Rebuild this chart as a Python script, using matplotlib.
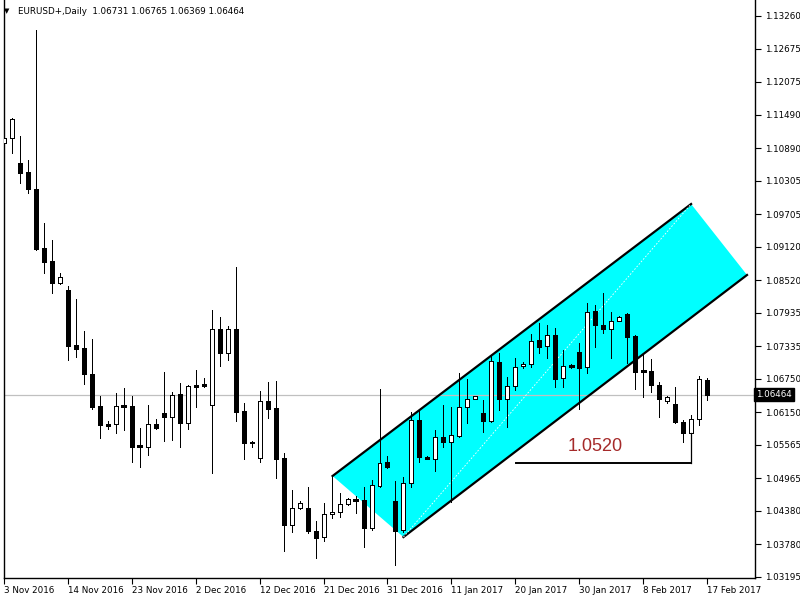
import matplotlib
matplotlib.use('Agg')
import matplotlib.pyplot as plt
import matplotlib.transforms as mtransforms
from matplotlib.patches import Polygon

# daily EURUSD+ bars, 3 Nov 2016 .. 17 Feb 2017
opens = [1.10981, 1.11070, 1.10622, 1.10460, 1.10155, 1.09097, 1.08864, 1.08469, 1.08343, 1.07357,
         1.07303, 1.06836, 1.06262, 1.05939, 1.05939, 1.06262, 1.06262, 1.05545, 1.05527, 1.05939,
         1.06137, 1.06065, 1.06478, 1.05957, 1.06639, 1.06657, 1.06280, 1.07644, 1.07213, 1.07644,
         1.06173, 1.05617, 1.05330, 1.06352, 1.06227, 1.05330, 1.04128, 1.04432, 1.04432, 1.04020,
         1.03912, 1.04325, 1.04361, 1.04504, 1.04576, 1.04576, 1.04074, 1.04827, 1.05258, 1.04558,
         1.04038, 1.04881, 1.06011, 1.05347, 1.05312, 1.05706, 1.05617, 1.05724, 1.06244, 1.06388,
         1.06137, 1.05993, 1.07052, 1.06388, 1.06621, 1.06980, 1.07016, 1.07446, 1.07339, 1.07536,
         1.06765, 1.06980, 1.07231, 1.06962, 1.07967, 1.07716, 1.07644, 1.07787, 1.07913, 1.07518,
         1.06890, 1.06890, 1.06639, 1.06352, 1.06298, 1.05975, 1.05778, 1.06029, 1.06731]
highs = [1.11268, 1.11429, 1.11106, 1.10676, 1.13008, 1.09545, 1.09240, 1.08648, 1.08415, 1.08182,
         1.07608, 1.07464, 1.06442, 1.05993, 1.06496, 1.06585, 1.06442, 1.05868, 1.06280, 1.06029,
         1.06872, 1.06514, 1.06675, 1.06639, 1.06908, 1.06765, 1.07985, 1.07859, 1.07698, 1.08756,
         1.06316, 1.05635, 1.06531, 1.06693, 1.06711, 1.05419, 1.04755, 1.04558, 1.04809, 1.04199,
         1.04522, 1.05007, 1.04702, 1.04612, 1.04648, 1.04809, 1.04935, 1.06567, 1.05365, 1.04917,
         1.04989, 1.06155, 1.06191, 1.05365, 1.05832, 1.06280, 1.06244, 1.06854, 1.06747, 1.06442,
         1.06370, 1.07159, 1.07213, 1.06783, 1.07124, 1.07052, 1.07554, 1.07751, 1.07716, 1.07662,
         1.07267, 1.07016, 1.07393, 1.08110, 1.08074, 1.08290, 1.07949, 1.07877, 1.07931, 1.07536,
         1.07177, 1.07106, 1.06693, 1.06442, 1.06603, 1.06011, 1.06101, 1.06801, 1.06765]
lows = [1.10604, 1.10801, 1.10263, 1.10084, 1.09061, 1.08648, 1.08290, 1.08451, 1.07088, 1.07141,
        1.06657, 1.06209, 1.05688, 1.05850, 1.05778, 1.05832, 1.05258, 1.05168, 1.05383, 1.05850,
        1.05635, 1.05652, 1.05527, 1.05850, 1.06244, 1.06603, 1.05060, 1.06980, 1.07088, 1.05993,
        1.05312, 1.05527, 1.05258, 1.06047, 1.04971, 1.03661, 1.04002, 1.04415, 1.03984, 1.03535,
        1.03841, 1.04253, 1.04271, 1.04486, 1.04343, 1.03733, 1.04038, 1.04809, 1.05150, 1.03410,
        1.04002, 1.04809, 1.05258, 1.05312, 1.05096, 1.05527, 1.04540, 1.05706, 1.05957, 1.06388,
        1.05796, 1.05975, 1.06191, 1.05886, 1.06549, 1.06944, 1.06962, 1.07213, 1.07124, 1.06603,
        1.06603, 1.06944, 1.06209, 1.06854, 1.07321, 1.07572, 1.07124, 1.07787, 1.07034, 1.06567,
        1.06424, 1.06514, 1.06065, 1.06316, 1.05957, 1.05617, 1.05778, 1.05922, 1.06369]
closes = [1.11070, 1.11411, 1.10442, 1.10155, 1.09079, 1.08846, 1.08469, 1.08577, 1.07339, 1.07285,
          1.06836, 1.06244, 1.05922, 1.05904, 1.06262, 1.06262, 1.05527, 1.05545, 1.05939, 1.05868,
          1.06065, 1.06460, 1.05957, 1.06621, 1.06603, 1.06621, 1.07644, 1.07213, 1.07644, 1.06155,
          1.05599, 1.05599, 1.06352, 1.06209, 1.05312, 1.04128, 1.04432, 1.04522, 1.04020, 1.03894,
          1.04325, 1.04361, 1.04504, 1.04594, 1.04576, 1.04074, 1.04845, 1.05240, 1.05168, 1.04020,
          1.04881, 1.06011, 1.05347, 1.05312, 1.05706, 1.05617, 1.05742, 1.06244, 1.06388, 1.06442,
          1.05993, 1.07070, 1.06388, 1.06621, 1.06962, 1.07016, 1.07429, 1.07321, 1.07536, 1.06747,
          1.06980, 1.06980, 1.06944, 1.07949, 1.07716, 1.07644, 1.07787, 1.07859, 1.07500, 1.06872,
          1.06890, 1.06639, 1.06388, 1.06424, 1.05975, 1.05778, 1.06029, 1.06747, 1.06464]

date_pos = [0, 8, 16, 24, 32, 40, 48, 56, 64, 72, 80, 88]
date_labels = ['3 Nov 2016', '14 Nov 2016', '23 Nov 2016', '2 Dec 2016', '12 Dec 2016',
               '21 Dec 2016', '31 Dec 2016', '11 Jan 2017', '20 Jan 2017', '30 Jan 2017',
               '8 Feb 2017', '17 Feb 2017']
price_ticks = [1.13260, 1.12675, 1.12075, 1.11490, 1.10890, 1.10305, 1.09705, 1.09120, 1.08520,
               1.07935, 1.07335, 1.06750, 1.06150, 1.05565, 1.04965, 1.04380, 1.03780, 1.03195]
last_price = 1.06464
header = 'EURUSD+,Daily  1.06731 1.06765 1.06369 1.06464'

# equidistant channel (two parallel lines), bar index / price
chan_top = [(41.125, 1.05007), (86.0, 1.09886)]
chan_bot = [(50.0, 1.03912), (93.0, 1.08613)]

# support level mark
level_text = '1.0520'
level_price = 1.05240
level_from, level_to = 64.1, 86
level_text_x, level_text_y = 74, 1.05536

fig = plt.figure(figsize=(8, 6), dpi=100)
ax = fig.add_axes([4 / 800, 22 / 600, 751 / 800, 578 / 600])
ax.set_xlim(0.125, 94.0)
ax.set_ylim(1.03177, 1.13546)

# channel
poly = Polygon([chan_top[0], chan_top[1], chan_bot[1], chan_bot[0]], closed=True,
               facecolor='#00ffff', edgecolor='none', zorder=1)
ax.add_patch(poly)
ax.plot([p[0] for p in chan_top], [p[1] for p in chan_top], color='black', lw=1.6, zorder=2)
ax.plot([p[0] for p in chan_bot], [p[1] for p in chan_bot], color='black', lw=1.6, zorder=2)
ax.plot([chan_bot[0][0], chan_top[1][0]], [chan_bot[0][1], chan_top[1][1]],
        color='white', lw=0.6, ls=(0, (2, 2)), zorder=2)

# current price line
ax.axhline(last_price, color='#c0c0c0', lw=0.9, zorder=1.5)

# candles
for i in range(len(opens)):
    o, h, l, c = opens[i], highs[i], lows[i], closes[i]
    ax.vlines(i, l, h, color='black', lw=0.72, zorder=3, antialiased=False)
    lo, hi = min(o, c), max(o, c)
    fc = 'white' if c > o else 'black'
    if hi - lo < 0.00005:
        ax.hlines((o + c) / 2, i - 0.3, i + 0.3, color='black', lw=0.9, zorder=4,
                  antialiased=False)
    else:
        ax.bar(i, hi - lo, bottom=lo, width=0.5, facecolor=fc, edgecolor='black',
               linewidth=0.72, zorder=4, antialiased=False)

# level annotation
ax.plot([level_from, level_to], [level_price, level_price], color='black', lw=1.4, zorder=5)
ax.plot([level_to, level_to], [lows[86], level_price], color='black', lw=0.9, zorder=5)
ax.text(level_text_x, level_text_y, level_text, color='#a52a2a', fontsize=13,
        family='Liberation Sans', ha='center', va='center', zorder=6)

# axes styling
ax.spines['top'].set_visible(False)
for s in ['left', 'right', 'bottom']:
    ax.spines[s].set_linewidth(1.0)
ax.yaxis.tick_right()
ax.set_yticks(price_ticks)
ax.set_yticklabels(['%.5f' % p for p in price_ticks])
ax.tick_params(axis='y', direction='out', length=4, width=0.8, pad=3, labelsize=6.3)
ax.set_xticks(date_pos)
ax.set_xticklabels(date_labels, ha='left')
ax.tick_params(axis='x', direction='out', length=4, width=0.8, pad=2, labelsize=6.3)

trans = mtransforms.blended_transform_factory(ax.transAxes, ax.transData)
ax.text(1.002, last_price, '%.5f' % last_price, transform=trans, color='white', fontsize=6.3,
        ha='left', va='center', zorder=10, clip_on=False,
        bbox=dict(boxstyle='square,pad=0.25', facecolor='black', edgecolor='black'))

fig.text(4 / 800, 1 - 11 / 600, '\u25bc', fontsize=5, va='center', ha='left')
fig.text(18 / 800, 1 - 11 / 600, header, fontsize=6.3, va='center', ha='left')

fig.savefig('out.png', dpi=100)
